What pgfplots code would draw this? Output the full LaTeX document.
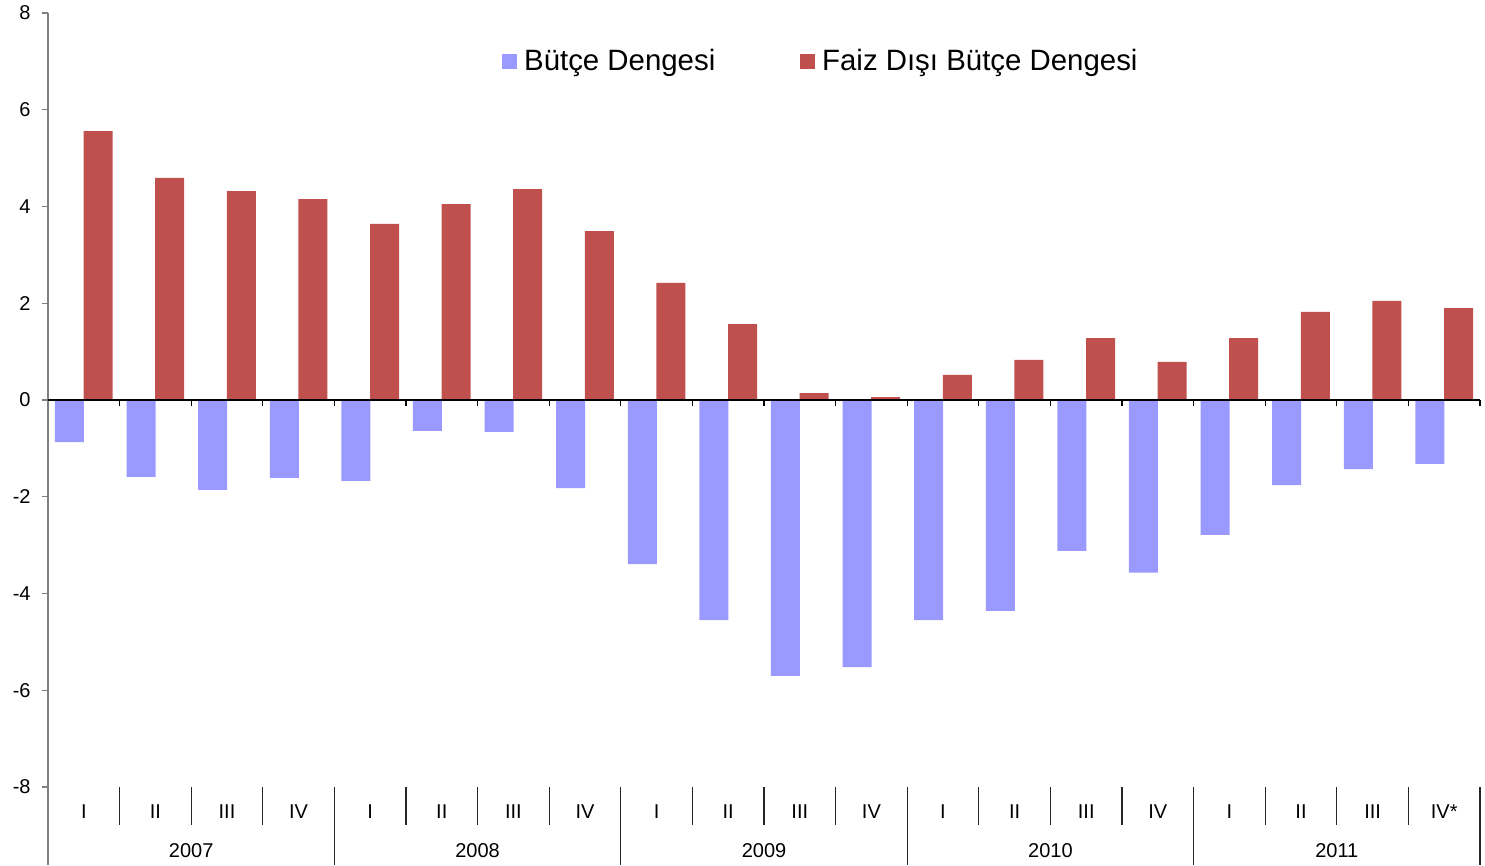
\documentclass[border=0pt]{standalone}
\usepackage{fontspec}
\setmainfont{Liberation Sans}
\usepackage{pgfplots}
\pgfplotsset{compat=1.18}
\definecolor{bblue}{HTML}{9999FF}
\definecolor{fred}{HTML}{C0504D}
\definecolor{axgray}{HTML}{7F7F7F}
\begin{document}
\begin{tikzpicture}
\begin{axis}[
  scale only axis,
  width=716pt, height=387pt,
  xmin=-0.5, xmax=19.5, ymin=-8, ymax=8,
  clip=false,
  axis y line=left, axis x line=bottom,
  axis line style={-},
  y axis line style={axgray, line width=0.6pt},
  x axis line style={draw=none},
  ytick={-8,-6,...,8},
  tick align=outside,
  major tick length=3pt,
  ytick style={axgray, line width=0.6pt},
  yticklabel style={anchor=east, inner sep=0pt, xshift=-5.5pt, font=\fontsize{10}{12}\selectfont},
  /pgf/number format/assume math mode=true,
  xtick={0,...,19},
  xticklabels={I,II,III,IV,I,II,III,IV,I,II,III,IV,I,II,III,IV,I,II,III,IV*},
  xtick style={draw=none},
  xticklabel style={anchor=center, inner sep=0pt, yshift=-9.5pt, font=\fontsize{10}{12}\selectfont},
  legend style={at={(axis description cs:0.317,0.937)}, anchor=west, draw=none, fill=none,
    inner sep=0pt, font=\fontsize{14.7}{17}\selectfont,
    /tikz/every odd column/.append style={column sep=1.5pt},
    /tikz/every even column/.append style={column sep=40.5pt}},
  legend columns=2,
]
\addlegendimage{legend image code/.code={\fill[bblue] (0pt,-3.5pt) rectangle (7pt,3.5pt);}}
\addlegendentry{Bütçe Dengesi}
\addlegendimage{legend image code/.code={\fill[fred] (0pt,-3.5pt) rectangle (7pt,3.5pt);}}
\addlegendentry{Faiz Dışı Bütçe Dengesi}

\addplot[ybar, bar width=0.405, bar shift=-0.2, fill=bblue, draw=none, forget plot] coordinates {
(0,-0.87) (1,-1.59) (2,-1.86) (3,-1.61) (4,-1.67) (5,-0.64) (6,-0.66) (7,-1.82)
(8,-3.39) (9,-4.55) (10,-5.70) (11,-5.52) (12,-4.55) (13,-4.36) (14,-3.12) (15,-3.57)
(16,-2.79) (17,-1.76) (18,-1.43) (19,-1.32)};
\addplot[ybar, bar width=0.405, bar shift=0.2, fill=fred, draw=none, forget plot] coordinates {
(0,5.56) (1,4.59) (2,4.32) (3,4.15) (4,3.64) (5,4.05) (6,4.36) (7,3.49)
(8,2.42) (9,1.57) (10,0.14) (11,0.06) (12,0.52) (13,0.83) (14,1.28) (15,0.79)
(16,1.28) (17,1.82) (18,2.05) (19,1.90)};

\draw[black, line width=0.6pt] (axis cs:-0.5,0) -- (axis cs:19.5,0);
\pgfplotsinvokeforeach{0,...,19}{\draw[black, line width=0.6pt] (axis cs:#1.5,0) -- ++(0pt,-3pt);}
\pgfplotsinvokeforeach{0,1,2,4,5,6,8,9,10,12,13,14,16,17,18}{\draw[black!85, line width=0.6pt] (axis cs:#1.5,-8) -- ++(0pt,-19pt);}
\pgfplotsinvokeforeach{3,7,11,15,19}{\draw[black!85, line width=0.6pt] (axis cs:#1.5,-8) -- ++(0pt,-39pt);}
\draw[axgray, line width=0.6pt] (axis cs:-0.5,-8) -- ++(0pt,-39pt);
\node[font=\fontsize{10}{12}\selectfont] at ([yshift=-32pt]axis cs:1.5,-8) {2007};
\node[font=\fontsize{10}{12}\selectfont] at ([yshift=-32pt]axis cs:5.5,-8) {2008};
\node[font=\fontsize{10}{12}\selectfont] at ([yshift=-32pt]axis cs:9.5,-8) {2009};
\node[font=\fontsize{10}{12}\selectfont] at ([yshift=-32pt]axis cs:13.5,-8) {2010};
\node[font=\fontsize{10}{12}\selectfont] at ([yshift=-32pt]axis cs:17.5,-8) {2011};
\coordinate (sw) at (rel axis cs:0,0);
\coordinate (ne) at (rel axis cs:1,1);
\end{axis}
\path ([shift={(-24pt,-39pt)}]sw) rectangle ([shift={(2.5pt,6.5pt)}]ne);
\end{tikzpicture}
\end{document}
